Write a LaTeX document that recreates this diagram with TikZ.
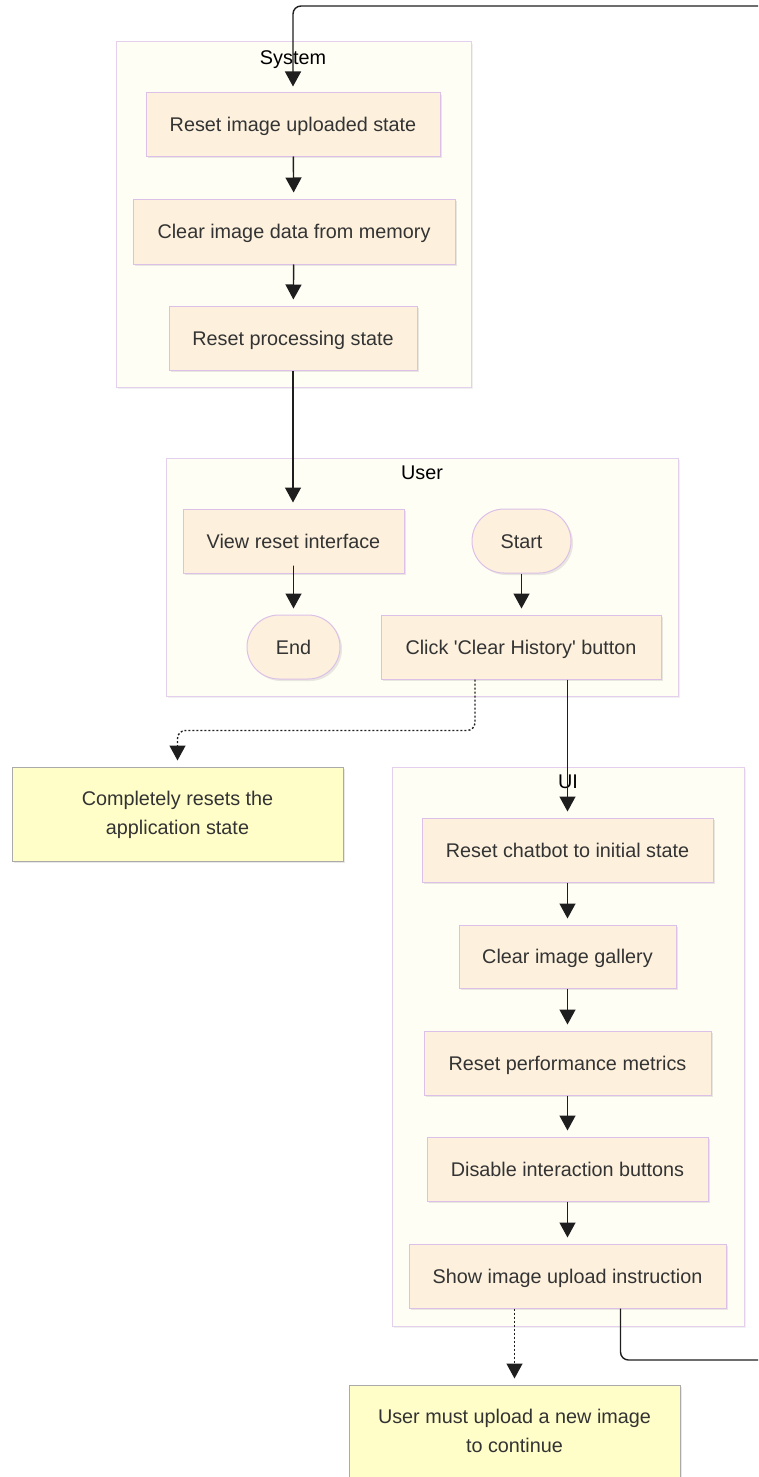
\documentclass[tikz,border=0pt]{standalone}
\usepackage{fontspec}
\setmainfont{Liberation Sans}
\usetikzlibrary{arrows.meta,calc,shadows}

\definecolor{clfill}{HTML}{FFFEF5}
\definecolor{cldraw}{HTML}{E4D0EC}
\definecolor{ndfill}{HTML}{FDF1DD}
\definecolor{nddraw}{HTML}{DCC0E8}
\definecolor{notefill}{HTML}{FFFEC9}
\definecolor{notedraw}{HTML}{AAAAAA}
\definecolor{txt}{HTML}{333333}
\definecolor{edge}{HTML}{1E1E1E}

% two centred lines, nudged slightly downwards inside a note
\newcommand{\notelines}[2]{\raisebox{-3pt}{\begin{tabular}{@{}c@{}}#1\\#2\end{tabular}}}

\tikzset{
  basefont/.style={font=\fontsize{19.8}{29}\selectfont},
  oneline/.style={text height=18pt, text depth=3.8pt},
  cluster/.style={draw=cldraw, fill=clfill, line width=1pt, inner sep=0pt,
    drop shadow={opacity=0.12, shadow xshift=2pt, shadow yshift=-2pt}},
  cltitle/.style={basefont, oneline, text=black, inner sep=0pt},
  proc/.style={draw=nddraw, fill=ndfill, line width=1pt, inner sep=0pt,
    basefont, oneline, text=txt,
    drop shadow={opacity=0.18, shadow xshift=2pt, shadow yshift=-2pt}},
  term/.style={proc, rounded corners=32pt},
  notebox/.style={draw=notedraw, fill=notefill, line width=1pt, inner sep=0pt,
    basefont, text=txt,
    drop shadow={opacity=0.18, shadow xshift=2pt, shadow yshift=-2pt}},
  flow/.style={draw=edge, line width=1.4pt, rounded corners=8pt,
    -{Triangle[width=16pt,length=15pt]}, shorten >=6pt},
  dotflow/.style={flow, dash pattern=on 2pt off 2pt},
}

\begin{document}
\begin{tikzpicture}[x=1pt,y=-1pt]
\useasboundingbox (0,0) rectangle (758,1477);

% swimlane frames
\node[cluster, minimum width=355pt, minimum height=345pt] (sys) at (293.5,214.5) {};
\node[cluster, minimum width=512pt, minimum height=238pt] (usr) at (422,577) {};
\node[cluster, minimum width=352pt, minimum height=559pt] (ui) at (568,1046.5) {};
\node[cltitle] (systitle) at (293,57) {System};
\node[cltitle] (usrtitle) at (422,472) {User};
\node[cltitle] (uititle) at (568,781) {UI};

% System lane
\node[proc, minimum width=294pt, minimum height=63pt] (reset1) at (293,124.5) {Reset image uploaded state};
\node[proc, minimum width=322pt, minimum height=65pt] (clear) at (294,231.5) {Clear image data from memory};
\node[proc, minimum width=248pt, minimum height=64pt] (procst) at (293,338) {Reset processing state};

% User lane
\node[proc, minimum width=221pt, minimum height=64pt] (view) at (293.5,541) {View reset interface};
\node[term, minimum width=99pt, minimum height=64pt] (start) at (521.5,541) {Start};
\node[term, minimum width=93pt, minimum height=64pt] (endn) at (293.5,647) {End};
\node[proc, minimum width=280pt, minimum height=64pt] (click) at (521,647) {Click \textquotesingle Clear History\textquotesingle\ button};

% UI lane
\node[proc, minimum width=291pt, minimum height=64pt] (chatbot) at (567.5,850) {Reset chatbot to initial state};
\node[proc, minimum width=217pt, minimum height=63pt] (gallery) at (567.5,956.5) {Clear image gallery};
\node[proc, minimum width=287pt, minimum height=64pt] (metrics) at (567.5,1063) {Reset performance metrics};
\node[proc, minimum width=281pt, minimum height=64pt] (disable) at (567.5,1169) {Disable interaction buttons};
\node[proc, minimum width=317pt, minimum height=64pt] (show) at (567.5,1276) {Show image upload instruction};

% notes
\node[notebox, minimum width=331pt, minimum height=94pt] (note1) at (177.5,814) {\notelines{Completely resets the}{application state}};
\node[notebox, minimum width=331pt, minimum height=94pt] (note2) at (514.5,1432) {\notelines{User must upload a new image}{to continue}};

% loop ends leaving the frame
\coordinate (loopin) at (758,6);
\coordinate (loopout) at (758,1360);

% connectors
\draw[flow] (loopin) -| (reset1.north);
\draw[flow] (reset1) -- (clear);
\draw[flow] (clear) -- (procst);
\draw[flow] (procst.south) -- (procst.south |- view.north);
\draw[flow] (view.south) -- (view.south -| endn.north) -- (endn.north);
\draw[flow] (start) -- (start |- click.north);
\draw[flow] (click.south -| chatbot.north) -- (chatbot.north);
\draw[dotflow] ($(click.south)+(-46,0)$) |- ($(note1.north)+(0,-36)$) -- (note1.north);
\draw[flow] (chatbot) -- (gallery);
\draw[flow] (gallery) -- (metrics);
\draw[flow] (metrics) -- (disable);
\draw[flow] (disable) -- (show);
\draw[dotflow] (show.south -| note2.north) -- (note2.north);
\draw[flow, -, shorten >=0pt] ($(show.south)+(53,0)$) |- (loopout);
\end{tikzpicture}
\end{document}
